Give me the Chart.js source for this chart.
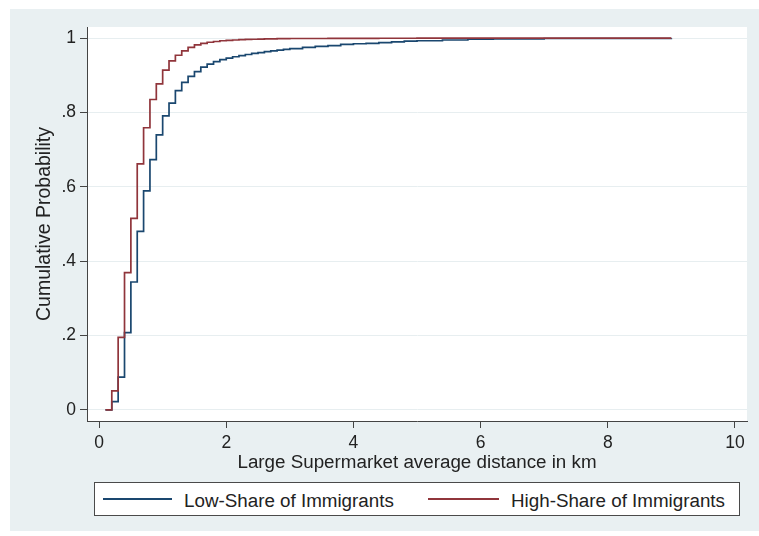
<!DOCTYPE html>
<html>
<head>
<meta charset="utf-8">
<title>Cumulative distribution of large supermarket distance</title>
<script src="https://cdn.jsdelivr.net/npm/chart.js@4/dist/chart.umd.min.js"></script>
<style>
  html, body { margin: 0; padding: 0; background: #fff; }
  #wrap { position: relative; width: 759px; height: 536px; }
  #legend {
    position: absolute; left: 94px; top: 482px; width: 644px; height: 32px;
    border: 1px solid #4a4a4a; background: #fff;
    font-family: 'Liberation Sans', Arial, sans-serif; font-size: 18.8px; color: #222;
  }
  .key { position: absolute; top: 15px; height: 2px; }
  .lbl { position: absolute; top: 9px; line-height: 1; white-space: nowrap; }
</style>
</head>
<body>
<div id="wrap">
  <canvas id="cdf" width="759" height="536"></canvas>
  <div id="legend"></div>
</div>
<script>
// distance grid (km) where the empirical CDF steps up
const distanceKm = [
  0.1, 0.2, 0.3, 0.4, 0.5, 0.6, 0.7, 0.8, 0.9, 1.0,
  1.1, 1.2, 1.3, 1.4, 1.5, 1.6, 1.7, 1.8, 1.9, 2.0,
  2.1, 2.2, 2.3, 2.4, 2.5, 2.6, 2.7, 2.8, 2.9, 3.0,
  3.2, 3.4, 3.6, 3.8, 4.0, 4.2, 4.4, 4.6, 4.8, 5.0,
  5.4, 5.8, 6.2, 7.0, 9.0
];

const lowShareCdf = [
  0, 0.022, 0.088, 0.208, 0.344, 0.48, 0.589, 0.673, 0.74, 0.791,
  0.825, 0.859, 0.881, 0.897, 0.91, 0.922, 0.93, 0.937, 0.942, 0.946,
  0.95, 0.953, 0.956, 0.959, 0.961, 0.964, 0.966, 0.968, 0.97, 0.972,
  0.975, 0.978, 0.98, 0.983, 0.985, 0.986, 0.988, 0.99, 0.992, 0.993,
  0.995, 0.997, 0.998, 0.999, 1
];
const highShareCdf = [
  0, 0.051, 0.195, 0.369, 0.515, 0.662, 0.759, 0.835, 0.877, 0.914,
  0.939, 0.954, 0.966, 0.975, 0.982, 0.986, 0.989, 0.991, 0.993, 0.994,
  0.995, 0.996, 0.9965, 0.997, 0.9975, 0.998, 0.998, 0.9985, 0.9985, 0.999,
  0.999, 0.999, 0.9993, 0.9995, 0.9995, 0.9996, 0.9997, 0.9998, 0.9998, 0.9999,
  0.9999, 1, 1, 1, 1
];

const seriesNames = ['Low-Share of Immigrants', 'High-Share of Immigrants'];
const xTickValues = [0, 2, 4, 6, 8, 10];
const yTickValues = [0, 0.2, 0.4, 0.6, 0.8, 1];
const yTickLabels = ['0', '.2', '.4', '.6', '.8', '1'];
const xTitle = 'Large Supermarket average distance in km';
const yTitle = 'Cumulative Probability';

const FONT = "'Liberation Sans', Arial, sans-serif";
const toPoints = (ys) => distanceKm.map((x, i) => ({ x: x, y: ys[i] }));

// stata style backdrop: bluish gray frame, white plot region
const backdrop = {
  id: 'backdrop',
  beforeDraw(chart) {
    const { ctx, chartArea: a } = chart;
    ctx.save();
    ctx.fillStyle = '#ffffff';
    ctx.fillRect(0, 0, chart.width, chart.height);
    ctx.fillStyle = '#e9f0f2';
    ctx.fillRect(10, 9, chart.width - 10, 522);
    ctx.fillStyle = '#ffffff';
    ctx.fillRect(a.left, a.top, a.right - a.left, a.bottom - a.top);
    ctx.restore();
  }
};

const chart = new Chart(document.getElementById('cdf'), {
  type: 'line',
  data: {
    datasets: [
      {
        label: seriesNames[0],
        data: toPoints(lowShareCdf),
        borderColor: '#1a476f',
        borderWidth: 1.7,
        pointRadius: 0,
        stepped: 'before',
        fill: false,
        order: 1
      },
      {
        label: seriesNames[1],
        data: toPoints(highShareCdf),
        borderColor: '#90353b',
        borderWidth: 1.7,
        pointRadius: 0,
        stepped: 'before',
        fill: false,
        order: 0
      }
    ]
  },
  options: {
    responsive: false,
    animation: false,
    devicePixelRatio: 1,
    layout: { padding: { left: 0, top: 27, right: 12, bottom: 0 } },
    plugins: {
      legend: { display: false },
      tooltip: { enabled: false }
    },
    scales: {
      x: {
        type: 'linear',
        min: -0.19,
        max: 10.19,
        afterBuildTicks: (s) => { s.ticks = xTickValues.map((v) => ({ value: v })); },
        afterFit: (s) => { s.height = 115; },
        grid: { drawOnChartArea: false, tickLength: 7, tickColor: '#444' },
        border: { color: '#444', width: 1 },
        ticks: {
          color: '#222',
          font: { family: FONT, size: 17.5 },
          padding: 5,
          maxRotation: 0,
          autoSkip: false,
          callback: (v) => String(v)
        },
        title: {
          display: true,
          text: xTitle,
          color: '#222',
          font: { family: FONT, size: 18.8 },
          padding: { top: 0, bottom: 62 }
        }
      },
      y: {
        min: -0.03,
        max: 1.03,
        afterBuildTicks: (s) => { s.ticks = yTickValues.map((v) => ({ value: v })); },
        afterFit: (s) => { s.width = 87; },
        grid: { color: '#e7eef0', lineWidth: 1, tickLength: 7, tickColor: '#444' },
        border: { color: '#444', width: 1 },
        ticks: {
          color: '#222',
          font: { family: FONT, size: 17.5 },
          padding: 4,
          autoSkip: false,
          callback: (v, i) => yTickLabels[i]
        },
        title: {
          display: true,
          text: yTitle,
          color: '#222',
          font: { family: FONT, size: 19.5 },
          padding: { top: 32.5, bottom: 0 }
        }
      }
    }
  },
  plugins: [backdrop]
});

// legend box like stata's, built from the dataset labels
const legend = document.getElementById('legend');
const keyLeft = [8, 333];
const keyWidth = [69, 71];
const lblLeft = [89, 416];
chart.data.datasets.forEach((ds, i) => {
  const key = document.createElement('div');
  key.className = 'key';
  key.style.left = keyLeft[i] + 'px';
  key.style.width = keyWidth[i] + 'px';
  key.style.background = ds.borderColor;
  legend.appendChild(key);
  const lbl = document.createElement('div');
  lbl.className = 'lbl';
  lbl.style.left = lblLeft[i] + 'px';
  lbl.textContent = ds.label;
  legend.appendChild(lbl);
});
</script>
</body>
</html>
